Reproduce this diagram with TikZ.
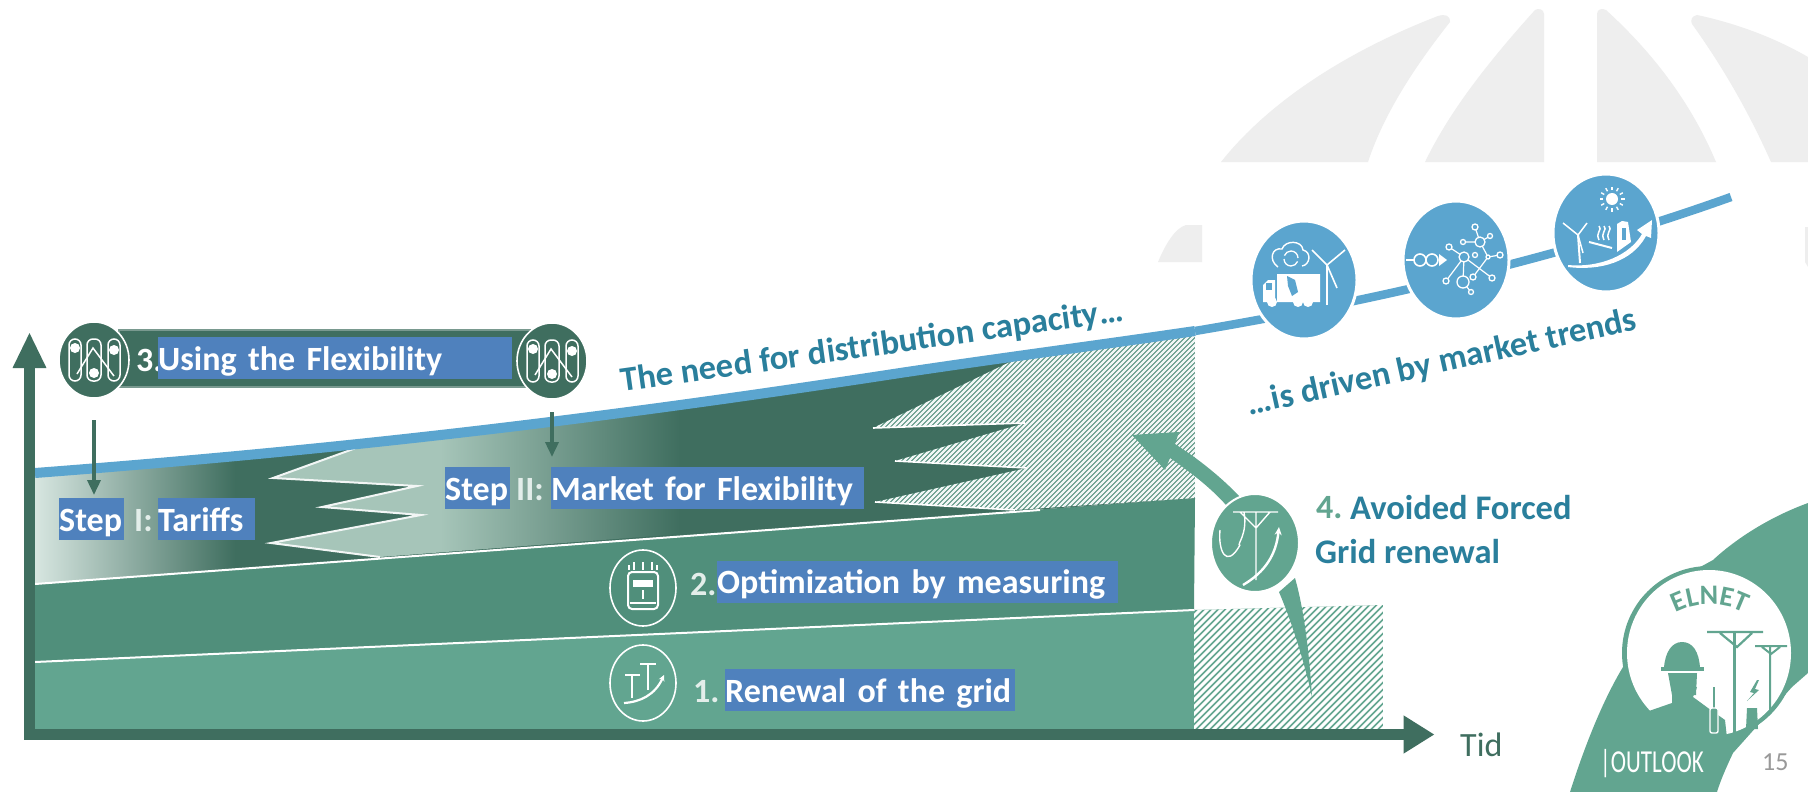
\documentclass[tikz,border=0pt]{standalone}
\usepackage{fontspec}
\setmainfont{Carlito}
\usetikzlibrary{arrows.meta,decorations.text,shapes.geometric}
\definecolor{dk}{HTML}{3F6E5F}
\definecolor{lay1}{HTML}{62A590}
\definecolor{lay2}{HTML}{508F7B}
\definecolor{lite}{HTML}{A6C5B9}
\definecolor{teal}{HTML}{2A7F9C}
\definecolor{boxb}{HTML}{4F81BD}
\definecolor{sky}{HTML}{5BA5CF}
\definecolor{glob}{HTML}{EEEEEE}
\definecolor{pale}{HTML}{E3EEEA}
\tikzset{
 x=1pt,y=-1pt,
 lbl/.style={font=\fontsize{34}{36}\selectfont\bfseries,text=pale,inner sep=0pt,anchor=west},
 bluebox/.style={fill=boxb,font=\fontsize{34}{36}\selectfont\bfseries,text=white,inner sep=0pt,anchor=west,align=left,text height=30pt,text depth=6pt,minimum height=42pt},
 tealtxt/.style={font=\fontsize{34.5}{36}\selectfont\bfseries,text=teal,inner sep=0pt},
 ico/.style={draw=white,line width=1.5pt,fill=none},
 wfill/.style={fill=white,draw=none},
 trend/.style={ellipse,fill=sky,draw=white,line width=3pt,minimum width=106pt,minimum height=118pt,inner sep=0pt},
 ring/.style={ellipse,draw=white,line width=1.6pt,minimum width=66pt,minimum height=76pt,inner sep=0pt},
 flexdisc/.style={ellipse,fill=dk,draw=white,line width=1.6pt,minimum width=70pt,minimum height=76pt,inner sep=0pt},
 smallarrow/.style={draw=dk,line width=3.5pt,-{Triangle[length=15pt,width=13pt]}}
}
\newcommand\flexicon[1]{\begin{scope}[shift={(#1)}]
 \draw[ico,rounded corners=6pt] (-25,-21) rectangle (-13,21);
 \draw[ico,rounded corners=6pt] (-7,-21) rectangle (7,21);
 \draw[ico,rounded corners=6pt] (14,-21) rectangle (26,21);
 \draw[ico] (-17,14) -- (-1,-12) -- (20,16);
 \fill[white] (-19,-12) circle (5) (0,13) circle (5) (20,-10) circle (5);
\end{scope}}
\begin{document}
\begin{tikzpicture}
\useasboundingbox (0,0) rectangle (1808,792);
\fill[white] (0,0) rectangle (1808,792);
% globe background
\fill[glob] (1221,162) -- (1368,162) .. controls (1385,110) and (1420,60) .. (1450,22) .. controls (1450,15) and (1445,14) .. (1438,16) .. controls (1350,50) and (1270,100) .. cycle;
\fill[glob] (1425,162) -- (1544,162) -- (1544,14) .. controls (1544,9) and (1538,8) .. (1535,10) .. controls (1490,60) and (1450,110) .. cycle;
\fill[glob] (1597,162) -- (1716,162) .. controls (1690,100) and (1650,50) .. (1606,10) .. controls (1602,8) and (1597,9) .. (1597,14) -- cycle;
\fill[glob] (1771,162) -- (1808,162) -- (1808,57) .. controls (1770,35) and (1730,22) .. (1697,15) .. controls (1692,16) and (1690,20) .. (1692,24) .. controls (1725,70) and (1750,115) .. cycle;
\fill[glob] (1158,262) -- (1202,262) -- (1202,225) -- (1186,225) .. controls (1175,228) and (1165,245) .. cycle;
\fill[glob] (1805,227) -- (1808,227) -- (1808,267) -- (1805,262) -- cycle;
% layers
\fill[lay1] (35,662) -- (1194,610) -- (1194,729) -- (35,729) -- cycle;
\fill[lay2] (35,584) -- (1195,498) -- (1194,610) -- (35,662) -- cycle;
\draw[white,line width=2pt] (35,662) -- (1194,610);
% flexibility band
\begin{scope}
 \clip (35,473) .. controls (350,449) and (600,419) .. (900,373) .. controls (1000,358) and (1100,345) .. (1195,331) -- (1195,498) -- (35,584) -- cycle;
 \fill[dk] (35,300) rectangle (1195,600);
 \shade[left color=pale!80!lite,right color=dk] (35,300) rectangle (235,600);
 \begin{scope}
  \clip (356,448) -- (273,478) -- (417,486) -- (322,507) -- (421,515) -- (271,543) -- (380,557) -- (760,528) -- (760,380) -- cycle;
  \fill[lite] (260,300) rectangle (440,600);
  \shade[left color=lite,right color=dk] (440,300) rectangle (680,600);
 \end{scope}
 \draw[white!85!lite,line width=2pt,line join=miter] (356,448) -- (273,478) -- (417,486) -- (322,507) -- (421,515) -- (271,543) -- (380,557);
 \begin{scope}
  \clip (1014,360) -- (873,428) -- (1025,423) -- (895,461) -- (1027,468) -- (875,502) -- (1015,510) -- (1195,498) -- (1195,320) -- cycle;
  \fill[lay2] (860,320) rectangle (1195,515);
  \foreach \i in {0,5,...,740} {\draw[white!92!lay2,line width=2.4pt] (660+\i,520) -- (660+\i+200,320);}
 \end{scope}
 \draw[white,line width=1.6pt] (873,428) -- (1025,423) (895,461) -- (1027,468) (875,502) -- (1015,510);
\end{scope}
\draw[white,line width=2pt] (35,584) -- (1040,510);
% avoided hatch box
\begin{scope}
 \clip (1194,610) -- (1383,605) -- (1383,729) -- (1194,729) -- cycle;
 \fill[lay1] (1194,600) rectangle (1383,730);
 \foreach \i in {0,7,...,336} {\draw[white,line width=3pt] (1194+\i-140,735) -- (1194+\i,595);}
\end{scope}
% trend line
\coordinate (trendstart) at (35,473);
\coordinate (trendmid) at (1195,331);
\coordinate (trendend) at (1731,197);
\draw[sky,line width=10pt] (trendstart) .. controls (350,449) and (600,419) .. (900,373) .. controls (1000,358) and (1100,345) .. (trendmid);
\draw[sky,line width=8.5pt] (trendmid) .. controls (1350,305) and (1550,262) .. (trendend);
% axes
\coordinate (ytip) at (29.5,332);
\coordinate (corner) at (29.5,734.5);
\coordinate (xtip) at (1434.5,734.5);
\draw[dk,line width=11pt,{Triangle[length=36pt,width=31pt]}-{Triangle[length=31pt,width=36pt]}] (ytip) -- (corner) -- (xtip);
% arrow 4
\fill[lay1] (1279,592) .. controls (1293,625) and (1305,665) .. (1312,697) .. controls (1309,650) and (1304,610) .. (1295,578) -- cycle;
\fill[lay1] (1132,435) -- (1179,432) -- (1175,444) .. controls (1200,460) and (1222,478) .. (1240,497) -- (1226,505) .. controls (1210,487) and (1190,472) .. (1170,458) -- (1165,470) -- cycle;
\node[ellipse,fill=lay1,draw=white,line width=2pt,minimum width=88pt,minimum height=98pt,inner sep=0pt] (avoid) at (1255,543) {};
\draw[white,line width=1.4pt] (1233,512) -- (1278,512) (1240,512) -- (1256,528) -- (1270,512) (1256,512) -- (1256,580) (1220,530) .. controls (1218,550) and (1226,570) .. (1240,545) (1244,512) .. controls (1248,535) and (1236,545) .. (1240,545);
\draw[white,line width=2.4pt,-{Stealth[length=8pt,width=7pt]}] (1243,585) .. controls (1265,572) and (1276,555) .. (1279,527);
% top bar
\node[fill=dk,draw=dk!70!white,line width=1.5pt,minimum width=411pt,minimum height=57pt,inner sep=0pt] (usebar) at (324.5,358.5) {};
\node[flexdisc] (flexL) at (94,360) {};
\node[flexdisc] (flexR) at (552,361) {};
\flexicon{94,360}
\flexicon{552,361}
\node[lbl,text=white] (three) at (136,360) {3.};
\node[bluebox,text width=354pt] (using) at (158,358) {Using the Flexibility};
% small arrows
\coordinate (arrLs) at (94,420); \coordinate (arrLe) at (94,495);
\coordinate (arrRs) at (552,412); \coordinate (arrRe) at (552,457);
\draw[smallarrow] (arrLs) -- (arrLe);
\draw[smallarrow] (arrRs) -- (arrRe);
% step labels
\node[bluebox,text width=65pt] (step1) at (59,519) {Step};
\node[lbl] (rom1) at (134,521) {I:};
\node[bluebox,text width=97pt] (tariffs) at (158,519) {Tariffs};
\node[bluebox,text width=65pt] (step2) at (445,488) {Step};
\node[lbl] (rom2) at (516,490) {II:};
\node[bluebox,text width=313pt] (market) at (551,488) {Market for Flexibility};
% layer labels
\node[ring] (ring2) at (643,588) {};
\draw[white,line width=2pt,rounded corners=4pt] (628,572) rectangle (658,609);
\fill[white] (633,580) rectangle (653,587);
\draw[white,line width=1.4pt] (643,590) -- (643,599) (630,603) -- (656,603) (629,565) -- (629,570) (634,562) -- (634,570) (643,562) -- (643,570) (652,562) -- (652,570) (657,565) -- (657,570);
\node[lbl] (two) at (690,584) {2.};
\node[bluebox,text width=401pt] (optim) at (717,581.5) {Optimization by measuring};
\node[ring] (ring1) at (643,683) {};
\draw[white,line width=1.3pt] (625,675) -- (640,675) (632,675) -- (632,698) (640,664) -- (656,664) (648,664) -- (648,690);
\draw[white,line width=2.2pt,-{Stealth[length=6pt,width=6pt]}] (624,703) .. controls (640,702) and (655,695) .. (664,675);
\node[lbl] (one) at (693,692) {1.};
\node[bluebox,text width=290pt] (renew) at (725,690) {Renewal of the grid};
% headline texts
\node[tealtxt,rotate=8] (need) at (872,347) {The need for distribution capacity…};
\node[tealtxt,rotate=12.5] (driven) at (1442,363) {…is driven by market trends};
\node[lbl,text=lay1,anchor=west] (four) at (1316,508) {4.};
\node[tealtxt,anchor=west] (forced) at (1350,508) {Avoided Forced};
\node[tealtxt,anchor=west] (gridr) at (1315,552) {Grid renewal};
\node[font=\fontsize{34}{36}\selectfont,text=dk,inner sep=0pt,anchor=west] (tid) at (1460,745) {Tid};
% trend circles
\node[trend] (t1) at (1304,280) {};
\node[trend] (t2) at (1456,260) {};
\node[trend] (t3) at (1606,233) {};
% truck icon
\fill[white] (1263,285) -- (1268,280) -- (1275,280) -- (1275,302) -- (1263,302) -- cycle (1277,274) rectangle (1320,302);
\fill[white] (1272,302) circle (5) (1298,302) circle (5) (1308,302) circle (5);
\fill[sky] (1287,276) -- (1295,280) -- (1298,292) -- (1292,296) -- (1288,286) -- cycle;
\fill[sky] (1266,283) rectangle (1272,290);
\draw[white,line width=1.4pt] (1278,267) .. controls (1268,260) and (1272,247) .. (1282,249) .. controls (1285,240) and (1302,240) .. (1303,250) .. controls (1312,252) and (1310,265) .. (1302,266);
\draw[white,line width=1.3pt] (1284,259) arc (180:20:7) (1298,258) arc (0:-160:7);
\draw[white,line width=2.4pt] (1327,305) -- (1327,265);
\draw[white,line width=1.6pt] (1327,265) -- (1312,250) (1327,265) -- (1345,250) (1327,265) -- (1337,288);
% network icon
\draw[white,line width=1.6pt] (1420,260) circle (6) (1432,260) circle (6) (1406,260) -- (1414,260);
\fill[white] (1439,254) -- (1447,260) -- (1439,266) -- cycle;
\draw[white,line width=1.2pt] (1464,257) -- (1446,281) (1464,257) -- (1463,282) (1464,257) -- (1492,278) (1464,257) -- (1449,247) (1480,242) -- (1488,257) -- (1473,277) (1480,242) -- (1463,242) (1480,242) -- (1475,227) (1480,242) -- (1490,236) (1488,257) -- (1500,255) (1463,282) -- (1471,292);
\draw[white,line width=1.3pt,fill=sky] (1464,257) circle (5) (1480,242) circle (5) (1463,282) circle (6) (1449,247) circle (3) (1475,227) circle (3) (1490,236) circle (2.5) (1463,242) circle (2.5) (1475,255) circle (2.5) (1488,257) circle (2) (1500,255) circle (3) (1492,278) circle (3) (1473,277) circle (3) (1446,281) circle (3) (1471,292) circle (2.5);
% renewables icon
\fill[white] (1612,199) circle (6);
\foreach \a in {0,30,...,330} {\draw[white,line width=1.4pt] (1612,199) ++(\a:9) -- ++(\a:3.5);}
\draw[white,line width=2pt] (1580,263) -- (1578,235);
\draw[white,line width=1.5pt] (1578,235) -- (1563,223) (1578,235) -- (1587,223) (1578,235) -- (1583,253);
\fill[white] (1568,265) .. controls (1600,268) and (1630,255) .. (1642,234) -- (1637,230) -- (1652,220) -- (1651,238) -- (1646,236) .. controls (1632,262) and (1600,271) .. (1568,267) -- cycle;
\fill[white] (1617,252) -- (1617,224) -- (1622,221) -- (1628,222) -- (1631,242) -- cycle;
\fill[sky] (1622,228) rectangle (1626,240);
\draw[white,line width=1.5pt] (1599,240) .. controls (1595,232) and (1603,230) .. (1599,226) (1604,240) .. controls (1600,232) and (1608,230) .. (1604,226) (1609,240) .. controls (1605,232) and (1613,230) .. (1609,226);
\draw[white,line width=2pt] (1589,242) -- (1612,248);
% logo
\fill[lay1] (1570,792) .. controls (1585,745) and (1603,700) .. (1623,667) -- (1640,600) -- (1713,560) .. controls (1740,535) and (1775,515) .. (1808,503) -- (1808,673) -- (1792,687) -- (1733,753) .. controls (1725,770) and (1720,782) .. (1717,792) -- cycle;
\fill[lay1] (1709,653) circle (87);
\node[ellipse,fill=white,minimum width=164pt,minimum height=166pt,inner sep=0pt] (logodisc) at (1709,653) {};
\fill[lay1] (1646,712) -- (1672,703) -- (1672,687) -- (1697,687) -- (1693,697) -- (1708,708) -- (1725,720) -- (1727,738) -- (1700,780) -- (1640,780) -- cycle;
\fill[lay1] (1664,668) .. controls (1665,652) and (1672,642) .. (1682,642) .. controls (1693,642) and (1699,652) .. (1700,668) -- cycle;
\fill[lay1] (1661,667) rectangle (1704,671);
\fill[lay1] (1668,673) -- (1697,673) -- (1696,695) -- (1672,695) -- cycle;
\draw[lay1,line width=3pt] (1734,632) -- (1734,736);
\draw[lay1,line width=2.2pt] (1707,632) -- (1763,632) (1720,633) -- (1737,647) -- (1752,633);
\draw[lay1,line width=2pt] (1770,647) -- (1770,713) (1755,646) -- (1787,646) (1762,647) -- (1771,654) -- (1780,647);
\fill[lay1] (1757,680) -- (1750,692) -- (1754,693) -- (1747,701) -- (1759,690) -- (1755,689) -- (1759,680) -- cycle;
\fill[lay1] (1747,708) -- (1757,708) -- (1758,729) -- (1746,729) -- cycle;
\draw[lay1,line width=2.6pt] (1714,687) -- (1714,708);
\draw[white,line width=1.4pt,rounded corners=2pt,fill=lay1] (1710,708) rectangle (1718,733);
\path[decorate,decoration={text along path,text align=center,text color=lay1,text={|\fontsize{28}{30}\selectfont\bfseries|ELNET}}] (1665,620) .. controls (1690,599) and (1730,599) .. (1755,620);
\node[font=\fontsize{32}{34}\selectfont,text=white,inner sep=0pt,anchor=west] (outlook) at (1600,764) {\scalebox{0.72}[1]{|OUTLOOK}};
\node[font=\fontsize{26}{28}\selectfont,text=black!40,inner sep=0pt,anchor=west] (pagen) at (1762,762) {15};
\end{tikzpicture}
\end{document}
